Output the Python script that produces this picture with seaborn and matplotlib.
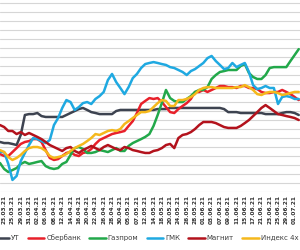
import numpy as np
import pandas as pd
import matplotlib
matplotlib.use("Agg")
import matplotlib.pyplot as plt
import seaborn as sns

# trading days 22.03.21 .. 02.07.21
dates = [
    "22.03.21", "23.03.21", "24.03.21", "25.03.21", "26.03.21", "29.03.21", "30.03.21", "31.03.21",
    "01.04.21", "02.04.21", "05.04.21", "06.04.21", "07.04.21", "08.04.21", "09.04.21", "12.04.21",
    "13.04.21", "14.04.21", "15.04.21", "16.04.21", "19.04.21", "20.04.21", "21.04.21", "22.04.21",
    "23.04.21", "26.04.21", "27.04.21", "28.04.21", "29.04.21", "30.04.21", "04.05.21", "05.05.21",
    "06.05.21", "07.05.21", "11.05.21", "12.05.21", "13.05.21", "14.05.21", "17.05.21", "18.05.21",
    "19.05.21", "20.05.21", "21.05.21", "24.05.21", "25.05.21", "26.05.21", "27.05.21", "28.05.21",
    "31.05.21", "01.06.21", "02.06.21", "03.06.21", "04.06.21", "07.06.21", "08.06.21", "09.06.21",
    "10.06.21", "11.06.21", "14.06.21", "15.06.21", "16.06.21", "17.06.21", "18.06.21", "21.06.21",
    "22.06.21", "23.06.21", "24.06.21", "25.06.21", "28.06.21", "29.06.21", "30.06.21", "01.07.21",
    "02.07.21",
]

ut = [-2.2, -2.8, -2.8, -3.3, -3.9, 1.7, 12.8, 13.3, 13.3, 13.9,
      12.2, 11.7, 11.7, 11.7, 11.7, 11.7, 12.8, 13.9, 15.0, 16.1,
      16.7, 15.6, 14.4, 13.9, 13.3, 13.3, 13.3, 13.3, 15.0, 15.6,
      15.6, 15.6, 15.6, 15.6, 15.6, 15.6, 15.6, 15.6, 16.1, 16.1,
      16.1, 16.7, 16.7, 16.7, 16.7, 16.7, 16.7, 16.7, 16.7, 16.7,
      16.7, 16.7, 16.7, 16.7, 16.1, 14.4, 14.4, 14.4, 13.9, 13.9,
      13.9, 13.9, 13.9, 13.9, 13.3, 13.3, 13.3, 13.3, 13.9, 14.4,
      14.4, 13.9, 12.8]

sber = [-8.9, -10.0, -10.0, -7.8, -5.6, -3.3, -2.2, -1.7, -0.6, -0.6,
        -2.2, -6.7, -11.1, -12.2, -11.7, -10.0, -8.3, -7.8, -9.4, -10.0,
        -8.3, -7.8, -6.1, -3.3, -1.1, 0.0, 1.1, 2.2, 2.8, 3.3,
        3.9, 6.7, 9.4, 13.9, 18.9, 20.6, 22.2, 21.7, 22.2, 20.0,
        17.2, 14.4, 13.9, 16.1, 17.8, 19.4, 21.7, 25.6, 25.6, 26.7,
        25.6, 26.7, 27.8, 28.9, 28.9, 28.3, 28.3, 27.8, 28.9, 28.9,
        27.8, 27.8, 27.2, 25.6, 25.0, 25.0, 25.6, 25.6, 26.7, 25.6,
        24.4, 22.8, 21.1]

gazprom = [-13.9, -17.2, -18.9, -17.8, -16.7, -14.4, -13.3, -14.4, -13.9, -13.3,
           -12.8, -15.6, -16.7, -17.2, -16.7, -14.4, -13.3, -9.4, -5.6, -5.0,
           -6.1, -8.3, -8.3, -7.8, -6.7, -7.2, -7.8, -6.7, -5.6, -7.2,
           -7.2, -4.4, -2.8, -1.7, -0.6, 0.6, 2.2, 6.7, 12.8, 19.4,
           26.7, 22.2, 20.6, 20.0, 20.0, 21.7, 23.3, 25.6, 26.7, 26.7,
           28.3, 32.8, 35.0, 36.7, 37.2, 37.8, 37.8, 37.8, 40.0, 41.1,
           36.1, 33.9, 32.8, 32.8, 35.0, 38.9, 39.4, 39.4, 39.4, 39.4,
           42.8, 46.1, 49.4]

gmk = [-7.8, -7.8, -14.4, -23.3, -21.1, -12.8, -8.3, -3.9, 0.0, -0.6,
       -1.7, -2.8, -1.1, 7.2, 11.1, 16.7, 21.1, 20.0, 15.6, 17.2,
       19.4, 20.0, 18.9, 21.7, 23.3, 25.6, 32.2, 35.6, 31.1, 27.8,
       24.4, 28.3, 33.3, 35.6, 38.9, 41.1, 41.7, 42.2, 41.7, 41.1,
       40.6, 39.4, 38.9, 37.8, 36.7, 35.0, 37.2, 38.3, 40.0, 41.7,
       44.4, 45.6, 42.8, 40.6, 38.3, 38.9, 41.7, 39.4, 40.6, 41.7,
       36.7, 29.4, 27.2, 27.8, 28.9, 27.8, 27.8, 18.9, 22.8, 23.3,
       22.8, 21.7, 21.7]

magnit = [7.2, 6.1, 3.9, 3.9, 2.2, 3.3, 1.7, 2.8, 1.7, 0.6,
          -0.6, -2.2, -3.9, -5.0, -6.1, -7.2, -5.6, -5.0, -7.2, -8.3,
          -6.7, -5.6, -4.4, -5.6, -6.7, -5.0, -3.9, -5.0, -6.1, -6.7,
          -5.0, -5.6, -6.7, -7.2, -7.8, -8.3, -8.3, -7.2, -6.7, -5.6,
          -3.9, -3.3, -5.6, 0.0, 1.7, 2.2, 3.3, 5.0, 7.2, 8.9,
          8.9, 8.9, 8.3, 7.2, 6.1, 5.6, 5.6, 5.6, 6.7, 8.3,
          10.0, 12.2, 14.4, 16.7, 18.3, 16.7, 15.0, 13.3, 12.8, 12.2,
          11.7, 11.1, 10.0]

index4 = [-6.7, -7.8, -10.6, -12.2, -11.1, -9.4, -7.2, -5.6, -5.0, -5.0,
          -5.6, -7.2, -10.0, -11.1, -10.6, -10.0, -8.9, -7.2, -5.6, -4.4,
          -3.3, -1.7, 0.0, 2.2, 1.7, 2.8, 3.9, 4.4, 3.9, 5.0,
          7.8, 9.4, 11.1, 12.8, 14.4, 14.4, 15.0, 17.2, 19.4, 21.1,
          20.6, 17.8, 17.8, 21.1, 21.1, 21.7, 22.8, 24.4, 26.7, 27.8,
          28.3, 28.3, 27.8, 27.8, 27.8, 27.8, 27.8, 28.3, 28.3, 29.4,
          28.3, 26.7, 24.4, 23.9, 25.0, 25.6, 25.6, 25.0, 23.9, 24.4,
          25.0, 25.6, 25.6]

names = ["УТ", "Сбербанк", "Газпром", "ГМК", "Магнит", "Индекс 4х бумаг"]
colors = ["#3d4350", "#e8202a", "#22a84a", "#1fa9e1", "#b3121c", "#f5b81c"]

series = [ut, sber, gazprom, gmk, magnit, index4]
df = pd.concat([
    pd.DataFrame({"day": np.arange(len(dates)), "value": vals, "series": name})
    for name, vals in zip(names, series)
])

sns.set_style("white")
plt.rcParams["font.family"] = ["DejaVu Sans"]

fig = plt.figure(figsize=(3.0, 2.5), dpi=100)
ax = fig.add_axes([0.0, 0.232, 1.0, 0.768])

sns.lineplot(data=df, x="day", y="value", hue="series", hue_order=names,
             palette=dict(zip(names, colors)), linewidth=1.8, ax=ax, legend=False)

ax.set_xlim(0, 72.3)
ax.set_ylim(-30, 76.7)
ax.set_yticks(np.arange(-30, 80, 5))
ax.tick_params(axis="y", left=False, labelleft=False)

tick_pos = np.arange(1, len(dates), 2)
ax.set_xticks(tick_pos)
ax.set_xticklabels([dates[i] for i in tick_pos], rotation=90, fontsize=4.2,
                   fontweight="bold", color="#333333")
ax.tick_params(axis="x", length=0, pad=2)
ax.set_xlabel("")
ax.set_ylabel("")
for side in ["top", "left", "right", "bottom"]:
    ax.spines[side].set_visible(False)

# light horizontal grid
ax.grid(True, axis="y", color="#d6d6d6", linewidth=0.8)
ax.grid(False, axis="x")
ax.set_axisbelow(True)

handles = [plt.Line2D([], [], color=c, linewidth=1.8) for c in colors]
fig.legend(handles, names, loc="center left", bbox_to_anchor=(-0.025, 0.048),
           ncol=6, frameon=False, fontsize=5, handlelength=2.4,
           handletextpad=0.25, columnspacing=1.2, borderpad=0, borderaxespad=0,
           labelcolor="#404040")

fig.savefig("out.png", dpi=100)
